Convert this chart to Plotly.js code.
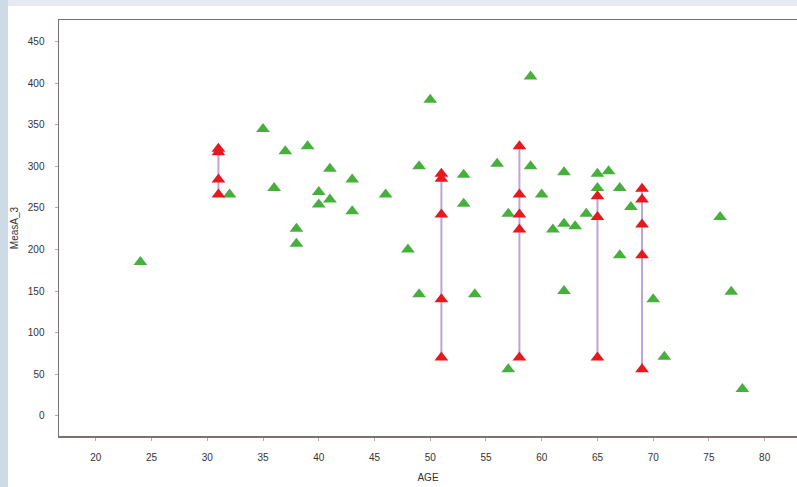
<!DOCTYPE html>
<html>
<head>
<meta charset="utf-8">
<script src="https://cdn.plot.ly/plotly-3.0.1.min.js"></script>
<style>html,body{margin:0;padding:0;background:#fff;}#chart{width:797px;height:487px;}</style>
</head>
<body>
<div id="chart"></div>
<script>
// Green (single measurement) points
const greenAge = [24,32,35,36,37,38,38,39,40,40,41,41,43,43,46,48,49,49,50,53,53,54,56,57,57,59,59,60,61,62,62,62,63,64,65,65,66,67,67,68,70,71,76,77,78];
const greenVal = [185,266,345,274,318,225,207,324,269,254,297,260,284,246,266,200,300,146,380,290,255,146,303,243,56,408,300,266,224,293,231,150,228,243,291,274,294,274,193,251,140,71,239,149,32];

// Red (repeated measurement) groups
const redAges = [31,51,58,65,69];
const redVals = [
  [321,317,284,266],
  [291,285,242,140,70],
  [324,266,242,224,70],
  [264,239,70],
  [273,260,230,193,56]
];

const xTicks = [20,25,30,35,40,45,50,55,60,65,70,75,80];
const yTicks = [0,50,100,150,200,250,300,350,400,450];

const traces = [];
redAges.forEach((a,i)=>{
  const v = redVals[i];
  traces.push({
    x:[a,a], y:[Math.min(...v), Math.max(...v)],
    mode:'lines', line:{color:'#bea3da', width:2},
    hoverinfo:'skip', showlegend:false
  });
});
traces.push({
  x: greenAge, y: greenVal, mode:'markers', showlegend:false,
  marker:{symbol:'triangle-up', size:12, color:'#47b03d'}
});
const rx=[], ry=[];
redAges.forEach((a,i)=>redVals[i].forEach(v=>{rx.push(a); ry.push(v);}));
traces.push({
  x: rx, y: ry, mode:'markers', showlegend:false,
  marker:{symbol:'triangle-up', size:12, color:'#e5191e'}
});

const W=738, H=416;
const layout = {
  width:797, height:487,
  margin:{l:59, r:0, t:20, b:51, pad:0},
  paper_bgcolor:'#ffffff', plot_bgcolor:'#ffffff',
  font:{family:'"Liberation Sans", Arial, sans-serif', size:10, color:'#333'},
  xaxis:{
    range:[16.7, 82.9], tickvals:xTicks, ticktext:xTicks.map(String),
    showgrid:false, zeroline:false, showline:true, mirror:true,
    linecolor:'#7b7171', linewidth:1.5,
    ticks:'outside', ticklen:3, tickcolor:'#aaa', ticklabelstandoff:8,
    tickfont:{size:10, color:'#333'},
    title:{text:'AGE', font:{size:10, color:'#333'}, standoff:12}
  },
  yaxis:{
    range:[-24.4, 476], tickvals:yTicks, ticktext:yTicks.map(String),
    showgrid:false, zeroline:false, showline:true,
    linecolor:'#7b7171', linewidth:1.5,
    ticks:'outside', ticklen:3, tickcolor:'#aaa', ticklabelstandoff:8,
    tickfont:{size:10, color:'#333'},
    title:{text:'MeasA_3', font:{size:10, color:'#333'}, standoff:7}
  },
  shapes:[
    {type:'rect', xref:'paper', yref:'paper', layer:'below',
     x0:-59/W, x1:(8-59)/W, y0:(436-487)/H, y1:436/H,
     fillcolor:'#cddbe7', line:{width:0}},
    {type:'rect', xref:'paper', yref:'paper', layer:'below',
     x0:(8-59)/W, x1:(797-59)/W, y0:(436-6)/H, y1:436/H,
     fillcolor:'#e4eaef', line:{width:0}}
  ]
};
Plotly.newPlot('chart', traces, layout, {displayModeBar:false, staticPlot:true});
</script>
</body>
</html>
